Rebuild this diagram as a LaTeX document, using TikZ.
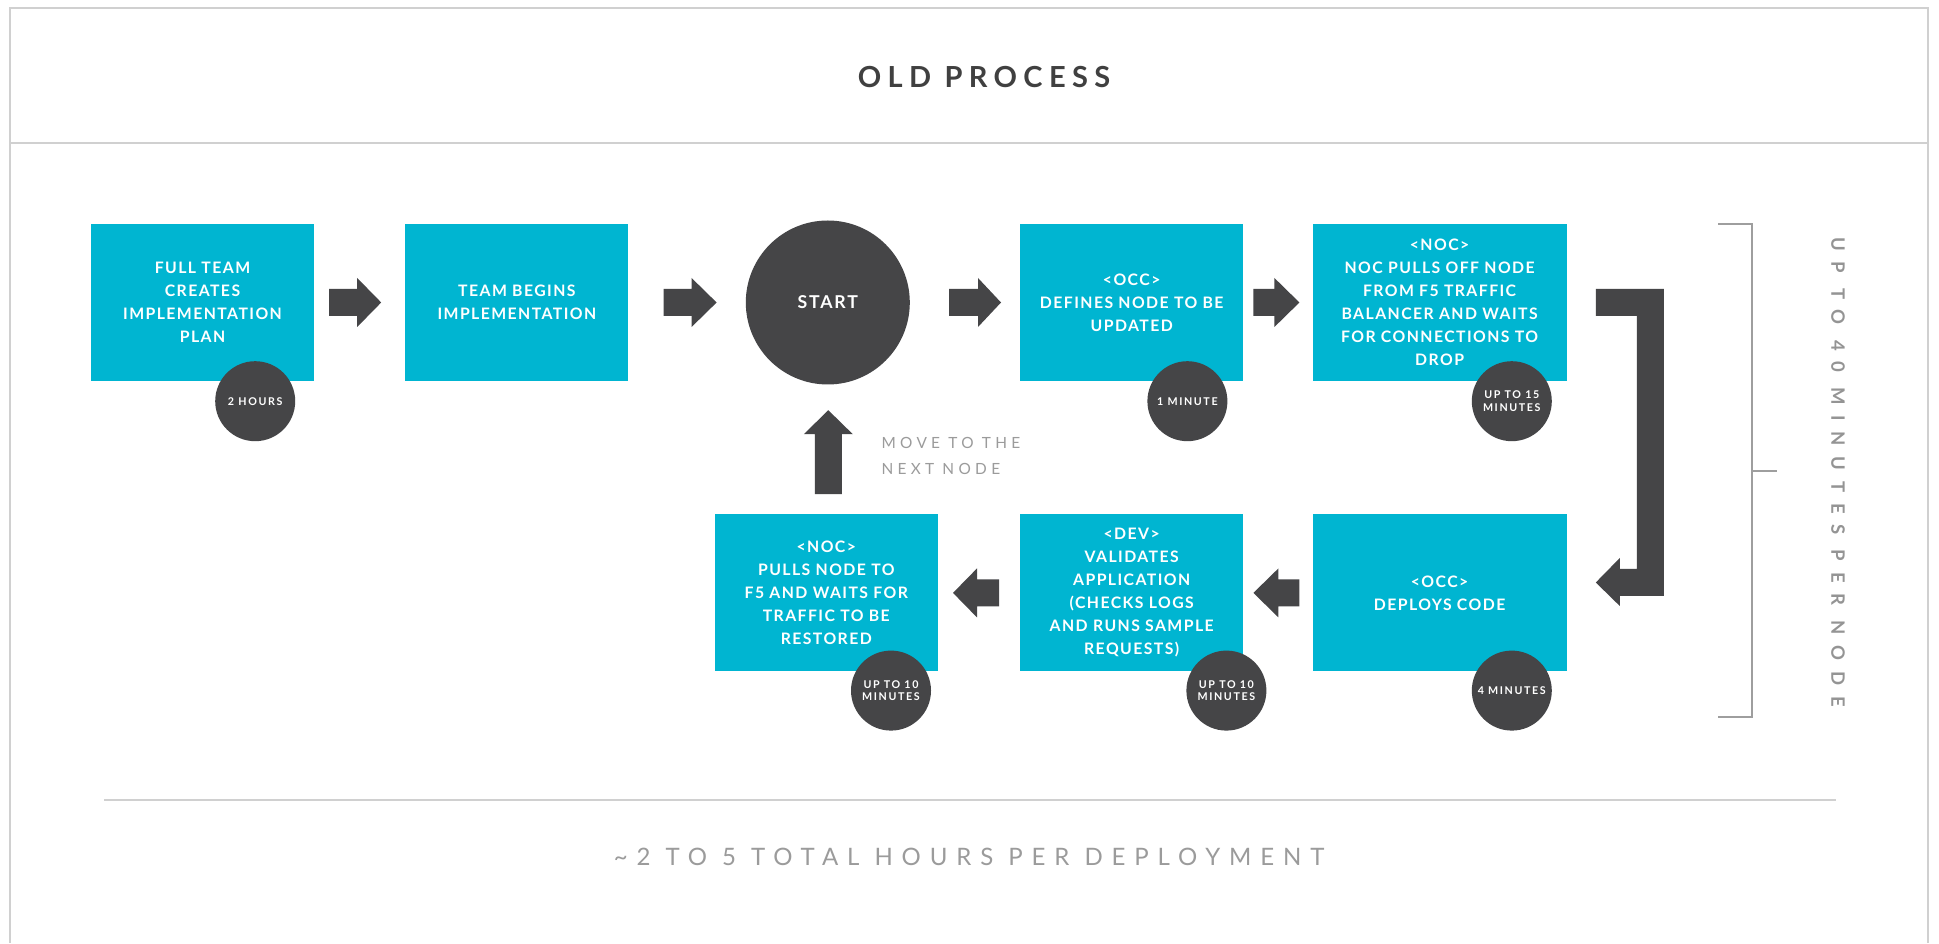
\documentclass[tikz,border=0pt]{standalone}
\usepackage{fontspec}
\usepackage{xcolor}
\usepackage{tikz}
\usetikzlibrary{positioning}
\setmainfont{Lato}
\newfontfamily\boxfont{Lato}[LetterSpace=9]
\newfontfamily\titlefont{Lato}[LetterSpace=22]
\newfontfamily\notefont{Lato}[LetterSpace=28]
\newfontfamily\footfont{Lato}[LetterSpace=37]
\newfontfamily\sidefont{Lato}[LetterSpace=58]
\newfontfamily\badgefont{Lato}[LetterSpace=15]
\newfontfamily\startfont{Lato}[LetterSpace=10]
\definecolor{boxcyan}{HTML}{00B5D1}
\definecolor{arrowgray}{HTML}{454547}
\definecolor{labelgray}{HTML}{9B9B9B}
\definecolor{titlegray}{HTML}{404040}
\definecolor{framegray}{HTML}{D0D0D0}
\definecolor{bracketgray}{HTML}{9E9E9E}
\definecolor{sidegray}{HTML}{949494}
\tikzset{
x=1pt, y=1pt, % one unit is one pixel of the original picture
box/.style={rectangle, fill=boxcyan, text=white, minimum width=223pt, minimum height=157pt, inner sep=0pt, align=center, font=\boxfont\bfseries\fontsize{15.8}{23}\selectfont}, % the cyan steps
wide/.style={minimum width=254pt}, % the wider steps on the right
badge/.style={circle, fill=arrowgray, text=white, minimum size=80pt, inner sep=0pt, align=center, font=\badgefont\bfseries\fontsize{10.7}{12.7}\selectfont}, % time needed for a step
startcircle/.style={circle, fill=arrowgray, text=white, minimum size=164pt, inner sep=0pt, font=\startfont\bfseries\fontsize{17.7}{20}\selectfont},
pics/fatarrow/.style 2 args={code={\fill[arrowgray] (0,-13.5) -- (#1,-13.5) -- (#1,-24.5) -- (#1+#2,0) -- (#1,24.5) -- (#1,13.5) -- (0,13.5) -- cycle;}}, % shaft length, head length
}
\begin{document}
\begin{tikzpicture}
\useasboundingbox (0,0) rectangle (1939,943);
\fill[white] (0,0) rectangle (1939,943);
\draw[framegray, line width=1.5pt] (10,0) -- (10,935) -- (1928,935) -- (1928,0);
\draw[framegray, line width=2pt] (10,800) -- (1928,800);
\node[text=titlegray, font=\titlefont\bfseries\fontsize{29}{30}\selectfont] (title) at (984,866) {OLD PROCESS};

\node[box] (b1) at (202.5,640.5) {FULL TEAM\\CREATES\\IMPLEMENTATION\\PLAN};
\node[box, right=91pt of b1] (b2) {TEAM BEGINS\\IMPLEMENTATION};
\node[startcircle, right=117pt of b2] (start) {START};
\node[box, right=110pt of start] (b4) {<OCC>\\DEFINES NODE TO BE\\UPDATED};
\node[box, wide, right=69pt of b4] (b5) {<NOC>\\NOC PULLS OFF NODE\\FROM F5 TRAFFIC\\BALANCER AND WAITS\\FOR CONNECTIONS TO\\DROP};
\node[box, wide, below=133pt of b5] (b6) {<OCC>\\DEPLOYS CODE};
\node[box, left=69pt of b6] (b7) {<DEV>\\VALIDATES\\APPLICATION\\(CHECKS LOGS\\AND RUNS SAMPLE\\REQUESTS)};
\node[box, left=82pt of b7] (b8) {<NOC>\\PULLS NODE TO\\F5 AND WAITS FOR\\TRAFFIC TO BE\\RESTORED};

\node[badge] (t1) at ([shift={(-59,-20)}]b1.south east) {2 HOURS};
\node[badge] (t4) at ([shift={(-56,-20)}]b4.south east) {1 MINUTE};
\node[badge] (t5) at ([shift={(-55,-20)}]b5.south east) {UP TO 15\\MINUTES};
\node[badge] (t6) at ([shift={(-55,-19)}]b6.south east) {4 MINUTES};
\node[badge] (t7) at ([shift={(-17,-19)}]b7.south east) {UP TO 10\\MINUTES};
\node[badge] (t8) at ([shift={(-47,-19)}]b8.south east) {UP TO 10\\MINUTES};

\pic at ([xshift=15pt]b1.east) {fatarrow={28}{24}};
\pic at ([xshift=35pt]b2.east) {fatarrow={28}{25}};
\pic at ([xshift=39pt]start.east) {fatarrow={29}{23}};
\pic at ([xshift=10pt]b4.east) {fatarrow={21}{25}};
\fill[arrowgray] ([shift={(29,13.5)}]b5.east) -- ++(68,0) -- ++(0,-307) -- ++(-44,0) -- ++(0,-10) -- ++(-24,23.5) -- ++(24,24.5) -- ++(0,-11) -- ++(17,0) -- ++(0,253) -- ++(-41,0) -- cycle;
\pic[rotate=180] at ([xshift=-13pt]b6.west) {fatarrow={21}{25}};
\pic[rotate=180] at ([xshift=-21pt]b7.west) {fatarrow={22}{24}};
\pic[rotate=90] at ([shift={(2,20)}]b8.north) {fatarrow={60}{24}};
\node[anchor=west, align=left, text=labelgray, font=\notefont\fontsize{15.4}{26}\selectfont] (move) at (878,487) {MOVE TO THE\\NEXT NODE};

\draw[bracketgray, line width=1.5pt] (1718,719) -- (1752,719) -- (1752,226) -- (1718,226);
\draw[bracketgray, line width=1.5pt] (1752,472) -- (1777,472);
\node[rotate=-90, text=sidegray, font=\sidefont\bfseries\fontsize{18.5}{20}\selectfont] (side) at (1838,471) {UP TO 40 MINUTES PER NODE};

\draw[framegray, line width=1.5pt] (104,143) -- (1836,143);
\node[text=labelgray, font=\footfont\fontsize{24}{28}\selectfont] (total) at (969,86) {\textasciitilde 2 TO 5 TOTAL HOURS PER DEPLOYMENT};
\end{tikzpicture}
\end{document}
